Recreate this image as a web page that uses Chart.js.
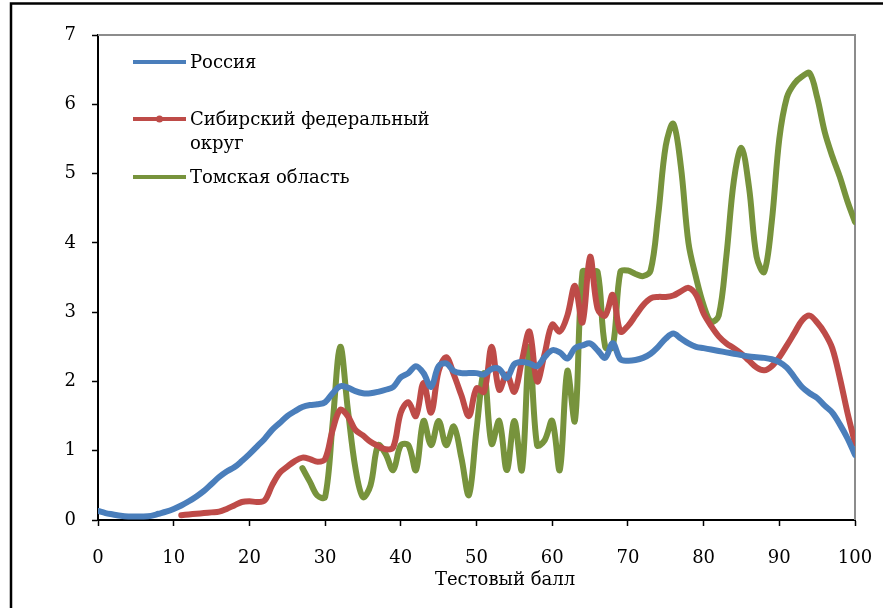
<!DOCTYPE html>
<html>
<head>
<meta charset="utf-8">
<script src="https://cdn.jsdelivr.net/npm/chart.js@4"></script>
<style>
  html, body { margin: 0; padding: 0; background: #ffffff; }
  #wrap { position: relative; width: 883px; height: 608px; }
  canvas { display: block; }
</style>
</head>
<body>
<div id="wrap"><canvas id="c" width="883" height="608"></canvas></div>
<script>
// ---- DATA ----
const scores = [0,1,2,3,4,5,6,7,8,9,10,11,12,13,14,15,16,17,18,19,20,21,22,23,24,25,26,27,28,29,30,31,32,33,34,35,36,37,38,39,40,41,42,43,44,45,46,47,48,49,50,51,52,53,54,55,56,57,58,59,60,61,62,63,64,65,66,67,68,69,70,71,72,73,74,75,76,77,78,79,80,81,82,83,84,85,86,87,88,89,90,91,92,93,94,95,96,97,98,99,100];

const russia = [0.13,0.10,0.08,0.06,0.05,0.05,0.05,0.06,0.09,0.12,0.16,0.21,0.27,0.34,0.42,0.52,0.62,0.70,0.76,0.85,0.95,1.06,1.17,1.30,1.40,1.50,1.57,1.63,1.66,1.67,1.70,1.83,1.93,1.91,1.86,1.83,1.83,1.85,1.88,1.92,2.06,2.12,2.22,2.12,1.92,2.22,2.26,2.15,2.12,2.12,2.12,2.10,2.18,2.18,2.05,2.25,2.28,2.26,2.22,2.35,2.45,2.42,2.33,2.48,2.52,2.55,2.45,2.34,2.55,2.32,2.30,2.31,2.34,2.40,2.50,2.62,2.69,2.62,2.55,2.50,2.48,2.46,2.44,2.42,2.40,2.38,2.36,2.35,2.34,2.32,2.28,2.20,2.06,1.92,1.83,1.76,1.65,1.55,1.38,1.18,0.94];

const siberia = [null,null,null,null,null,null,null,null,null,null,null,0.07,0.08,0.09,0.10,0.11,0.12,0.16,0.21,0.26,0.27,0.26,0.28,0.50,0.68,0.77,0.85,0.90,0.88,0.84,0.88,1.30,1.59,1.50,1.30,1.22,1.13,1.07,1.02,1.05,1.55,1.70,1.50,1.98,1.55,2.15,2.35,2.10,1.80,1.50,1.90,1.85,2.50,1.88,2.10,1.85,2.30,2.72,2.00,2.40,2.82,2.72,2.95,3.38,2.85,3.80,3.05,2.95,3.25,2.72,2.80,2.95,3.10,3.20,3.22,3.22,3.24,3.30,3.35,3.25,2.98,2.80,2.65,2.55,2.48,2.40,2.30,2.20,2.16,2.22,2.35,2.52,2.70,2.88,2.95,2.85,2.70,2.48,2.05,1.55,1.11];

const tomsk = [null,null,null,null,null,null,null,null,null,null,null,null,null,null,null,null,null,null,null,null,null,null,null,null,null,null,null,0.75,0.55,0.35,0.33,1.40,2.50,1.60,0.75,0.33,0.50,1.08,0.95,0.72,1.08,1.08,0.72,1.43,1.08,1.43,1.08,1.35,0.90,0.36,1.30,2.12,1.10,1.43,0.72,1.43,0.72,2.50,1.08,1.15,1.43,0.72,2.15,1.43,3.58,3.58,3.58,2.50,2.50,3.58,3.60,3.55,3.52,3.60,4.40,5.40,5.72,5.10,4.00,3.50,3.10,2.86,2.95,3.80,4.90,5.37,4.80,3.80,3.58,4.30,5.50,6.10,6.30,6.40,6.45,6.10,5.60,5.25,4.95,4.60,4.30];

const seriesNames = ['Россия', 'Сибирский федеральный округ', 'Томская область'];
const legendLines = [['Россия'], ['Сибирский федеральный', 'округ'], ['Томская область']];
const xTitle = 'Тестовый балл';
const xTicks = [0,10,20,30,40,50,60,70,80,90,100];
const yTicks = [0,1,2,3,4,5,6,7];

// ---- STYLE ----
const colors = ['#4a7ebb', '#be4b48', '#77933c'];
const FONT = '"DejaVu Serif", "Liberation Serif", serif';

function toPoints(vals) {
  const out = [];
  scores.forEach((s, i) => { if (vals[i] !== null) out.push({ x: s, y: vals[i] }); });
  return out;
}

const frameAndLegend = {
  id: 'frameAndLegend',
  beforeDraw(chart) {
    const ctx = chart.ctx;
    ctx.save();
    ctx.fillStyle = '#ffffff';
    ctx.fillRect(0, 0, chart.width, chart.height);
    ctx.strokeStyle = '#000000';
    ctx.lineWidth = 2.5;
    ctx.beginPath();
    ctx.moveTo(11, 608);
    ctx.lineTo(11, 3.5);
    ctx.lineTo(883, 3.5);
    ctx.stroke();
    ctx.restore();
  },
  beforeDatasetsDraw(chart) {
    const ctx = chart.ctx, a = chart.chartArea;
    ctx.save();
    ctx.strokeStyle = '#8c8c8c';
    ctx.lineWidth = 2;
    ctx.beginPath();
    ctx.moveTo(a.left, a.top);
    ctx.lineTo(a.right, a.top);
    ctx.lineTo(a.right, a.bottom);
    ctx.stroke();
    ctx.restore();
  },
  afterDraw(chart) {
    const ctx = chart.ctx;
    ctx.save();
    const rows = [[62], [119, 143], [177]];
    ctx.font = '18px ' + FONT;
    ctx.textBaseline = 'middle';
    ctx.textAlign = 'left';
    legendLines.forEach((lines, i) => {
      const y = rows[i][0];
      ctx.strokeStyle = colors[i];
      ctx.lineWidth = 4;
      ctx.lineCap = 'butt';
      ctx.beginPath();
      ctx.moveTo(133, y);
      ctx.lineTo(186, y);
      ctx.stroke();
      if (i === 1) {
        ctx.fillStyle = colors[i];
        ctx.beginPath();
        ctx.arc(159.5, y, 3.5, 0, Math.PI * 2);
        ctx.fill();
      }
      ctx.fillStyle = '#000000';
      lines.forEach((t, k) => ctx.fillText(t, 190, rows[i][k] + 1));
    });
    ctx.textAlign = 'center';
    ctx.fillText(xTitle, 505, 580);
    ctx.restore();
  }
};

new Chart(document.getElementById('c'), {
  type: 'line',
  data: {
    datasets: [russia, siberia, tomsk].map((vals, i) => ({
      label: seriesNames[i],
      data: toPoints(vals),
      borderColor: colors[i],
      backgroundColor: colors[i],
      borderWidth: 6,
      pointRadius: 0,
      tension: 0.35,
      fill: false,
      borderCapStyle: 'round',
      borderJoinStyle: 'round'
    }))
  },
  options: {
    responsive: false,
    animation: false,
    layout: { padding: { left: 0, top: 35, right: 28, bottom: 0 } },
    plugins: { legend: { display: false }, tooltip: { enabled: false } },
    scales: {
      x: {
        type: 'linear',
        min: 0, max: 100,
        afterBuildTicks: s => { s.ticks = xTicks.map(v => ({ value: v })); },
        afterFit: s => { s.height = 88; s.paddingLeft = 0; s.paddingRight = 0; },
        grid: { display: true, drawOnChartArea: false, drawTicks: true, tickLength: 6, color: '#000000', tickWidth: 1.5 },
        border: { display: true, color: '#000000', width: 2 },
        ticks: { color: '#000000', font: { family: FONT, size: 18 }, padding: 22, maxRotation: 0 }
      },
      y: {
        type: 'linear',
        min: 0, max: 7,
        afterBuildTicks: s => { s.ticks = yTicks.map(v => ({ value: v })); },
        afterFit: s => { s.width = 98; s.paddingTop = 0; s.paddingBottom = 0; },
        grid: { display: true, drawOnChartArea: false, drawTicks: true, tickLength: 6, color: '#000000', tickWidth: 1.5 },
        border: { display: true, color: '#000000', width: 2 },
        ticks: { color: '#000000', font: { family: FONT, size: 18 }, padding: 16 }
      }
    }
  },
  plugins: [frameAndLegend]
});
</script>
</body>
</html>
